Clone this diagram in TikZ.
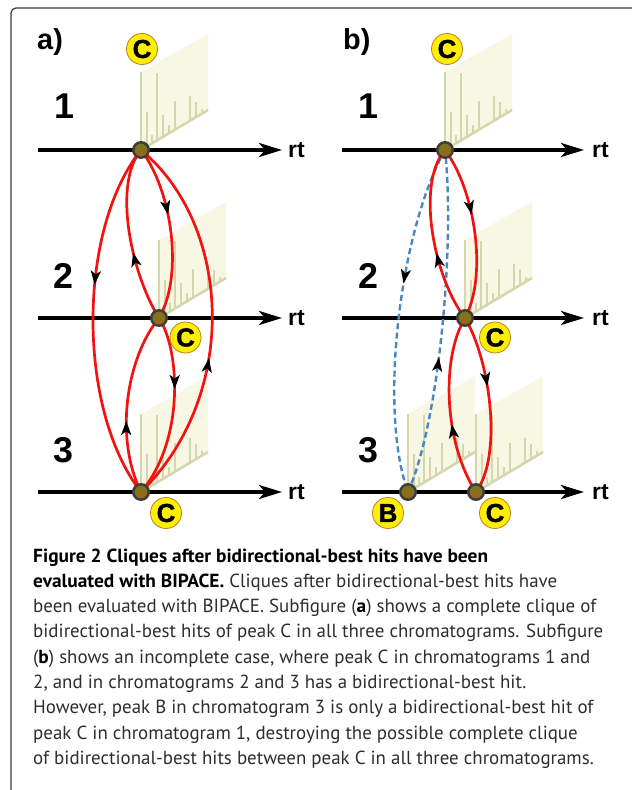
\documentclass[tikz,border=0pt]{standalone}
\usepackage{fontspec}
\setmainfont{PT Sans}[BoldFeatures={FakeStretch=1.025}]
\newfontfamily\lib{Liberation Sans}
\newfontfamily\heavy[BoldFeatures={FakeBold=1.5}]{Liberation Sans}
\usetikzlibrary{arrows.meta,decorations.markings}
\definecolor{redline}{HTML}{F21212}
\definecolor{blueline}{HTML}{4A86C0}
\definecolor{yel}{HTML}{FFEE00}
\definecolor{yelborder}{HTML}{B8801E}
\definecolor{planefill}{HTML}{F7F7E4}
\definecolor{peakcol}{HTML}{D5D5AE}
\definecolor{framecol}{HTML}{3A3A3A}
\definecolor{nodeborder}{HTML}{3C3C3C}
\definecolor{nodetop}{HTML}{707A1C}
\definecolor{nodebot}{HTML}{A8601A}
\definecolor{captext}{HTML}{2E2E2E}
\newcommand\chromplane[1]{%
\begin{scope}[shift={(#1)}]
\fill[planefill] (0,0) -- (67,-40) -- (67,-116) -- (0,-78) -- cycle;
\foreach \u/\h in {0.084/35,0.158/9,0.243/67,0.332/22,0.411/9,0.505/29,0.728/25,0.817/15,0.906/5}
  \draw[peakcol, line width=2bp] (67*\u, -40*\u) -- ++(0,-\h);
\draw[peakcol, line width=2bp] (0,0) -- (0,-78);
\draw[peakcol, line width=2.5bp] (0,0) -- (67,-40);
\end{scope}}
\begin{document}
\begin{tikzpicture}[x=1bp,y=-1bp,
  peakdot/.style={circle, draw=nodeborder, line width=2.4bp, minimum size=15.5bp, inner sep=0pt, top color=nodetop, bottom color=nodebot},
  clabel/.style={circle, draw=yelborder, line width=0.8bp, fill=yel, minimum size=31bp, inner sep=0pt, font=\heavy\bfseries\fontsize{26}{26}\selectfont},
  axisarrow/.style={line width=3.5bp, -{Stealth[length=23bp,width=14bp,inset=6bp]}},
  rtlabel/.style={anchor=base west, inner sep=0pt, font=\lib\bfseries\fontsize{23}{23}\selectfont},
  numlabel/.style={anchor=base, inner sep=0pt, font=\lib\bfseries\fontsize{36}{36}\selectfont},
  panellabel/.style={anchor=base west, inner sep=0pt, font=\lib\bfseries\fontsize{29}{29}\selectfont},
  redc/.style={draw=redline, line width=2.7bp},
  bluec/.style={draw=blueline, line width=2.4bp, dash pattern=on 6bp off 3.5bp},
  midarrow/.style={postaction={decorate}, decoration={markings, mark=at position #1 with {\arrow{Stealth[length=14bp,width=10bp,inset=3.5bp,color=black]}}}},
  midarrow/.default=0.4,
  capline/.style={anchor=base west, inner sep=0pt, text=captext, font=\fontsize{19}{19}\selectfont}
]
\useasboundingbox (0,0) rectangle (632,790);
\fill[white] (0,0) rectangle (632,790);
% frame
\coordinate (fr1) at (632,8);
\coordinate (fr2) at (11,8);
\coordinate (fr3) at (11,790);
\draw[framecol, line width=1.2bp, rounded corners=5bp] (fr1) -- (fr2) -- (fr3);

% peak positions
\coordinate (a1) at (141,150);
\coordinate (a2) at (159,318);
\coordinate (a3) at (141,492);
\coordinate (b1) at (445,150);
\coordinate (b2) at (465,318);
\coordinate (bB) at (408,492);
\coordinate (b3) at (476,492);

% chromatogram planes
\chromplane{a1}
\chromplane{a2}
\chromplane{a3}
\chromplane{b1}
\chromplane{b2}
\chromplane{bB}
\chromplane{b3}

% axes
\foreach \p/\xs/\xe/\y in {a/38/282/150, a/38/282/318, a/38/282/492, b/342/584/150, b/342/584/318, b/342/584/492}{
  \coordinate (s\p\y) at (\xs,\y);
  \coordinate (e\p\y) at (\xe,\y);
  \draw[axisarrow] (s\p\y) -- (e\p\y);
}
\node[rtlabel] (rta1) at (288,157) {rt};
\node[rtlabel] (rta2) at (288,325) {rt};
\node[rtlabel] (rta3) at (288,499) {rt};
\node[rtlabel] (rtb1) at (592,157) {rt};
\node[rtlabel] (rtb2) at (592,325) {rt};
\node[rtlabel] (rtb3) at (592,499) {rt};

% labels
\node[panellabel] (pa) at (37,50) {a)};
\node[panellabel] (pb) at (343,50) {b)};
\node[numlabel] (na1) at (64,118) {1};
\node[numlabel] (na2) at (63,288) {2};
\node[numlabel] (na3) at (63,462) {3};
\node[numlabel] (nb1) at (368,118) {1};
\node[numlabel] (nb2) at (368,288) {2};
\node[numlabel] (nb3) at (368,462) {3};

% panel a curves
\draw[redc, midarrow] (a1) .. controls (172,190) and (184,275) .. (a2);
\draw[redc, midarrow] (a2) .. controls (132,275) and (112,185) .. (a1);
\draw[redc, midarrow] (a1) .. controls (77,230) and (77,410) .. (a3);
\draw[redc, midarrow] (a3) .. controls (240,395) and (232,225) .. (a1);
\draw[redc, midarrow] (a2) .. controls (180,350) and (185,440) .. (a3);
\draw[redc, midarrow] (a3) .. controls (115,440) and (125,360) .. (a2);

% panel b curves
\draw[bluec, midarrow] (b1) .. controls (400,230) and (378,410) .. (bB);
\draw[bluec, midarrow] (bB) .. controls (440,420) and (455,240) .. (b1);
\draw[redc, midarrow] (b1) .. controls (475,190) and (488,275) .. (b2);
\draw[redc, midarrow] (b2) .. controls (435,280) and (415,185) .. (b1);
\draw[redc, midarrow] (b2) .. controls (490,360) and (503,455) .. (b3);
\draw[redc, midarrow] (b3) .. controls (445,445) and (440,360) .. (b2);

% peak dots
\node[peakdot] (da1) at (a1) {};
\node[peakdot] (da2) at (a2) {};
\node[peakdot] (da3) at (a3) {};
\node[peakdot] (db1) at (b1) {};
\node[peakdot] (db2) at (b2) {};
\node[peakdot] (dbB) at (bB) {};
\node[peakdot] (db3) at (b3) {};

% peak name labels
\node[clabel] (ca1) at (142,49) {C};
\node[clabel] (ca2) at (185.5,337.5) {C};
\node[clabel] (ca3) at (166,513) {C};
\node[clabel] (cb1) at (447,49) {C};
\node[clabel] (cb2) at (495,337.5) {C};
\node[clabel] (cbB) at (388,513) {B};
\node[clabel] (cb3) at (495,513) {C};

% caption
\node[capline, text=black] (cap1) at (33,562) {\bfseries Figure 2 Cliques after bidirectional-best hits have been};
\node[capline] (cap2) at (33,587.3) {\textcolor{black}{\bfseries evaluated with BIPACE.} Cliques after bidirectional-best hits have};
\node[capline] (cap3) at (33,612.6) {been evaluated with BIPACE. Subfigure (\textcolor{black}{\bfseries a}) shows a complete clique of};
\node[capline] (cap4) at (33,637.9) {bidirectional-best hits of peak C in all three chromatograms. Subfigure};
\node[capline] (cap5) at (33,663.2) {(\textcolor{black}{\bfseries b}) shows an incomplete case, where peak C in chromatograms 1 and};
\node[capline] (cap6) at (33,688.5) {2, and in chromatograms 2 and 3 has a bidirectional-best hit.};
\node[capline] (cap7) at (33,713.8) {However, peak B in chromatogram 3 is only a bidirectional-best hit of};
\node[capline] (cap8) at (33,739.1) {peak C in chromatogram 1, destroying the possible complete clique};
\node[capline] (cap9) at (33,764.4) {of bidirectional-best hits between peak C in all three chromatograms.};
\end{tikzpicture}
\end{document}
